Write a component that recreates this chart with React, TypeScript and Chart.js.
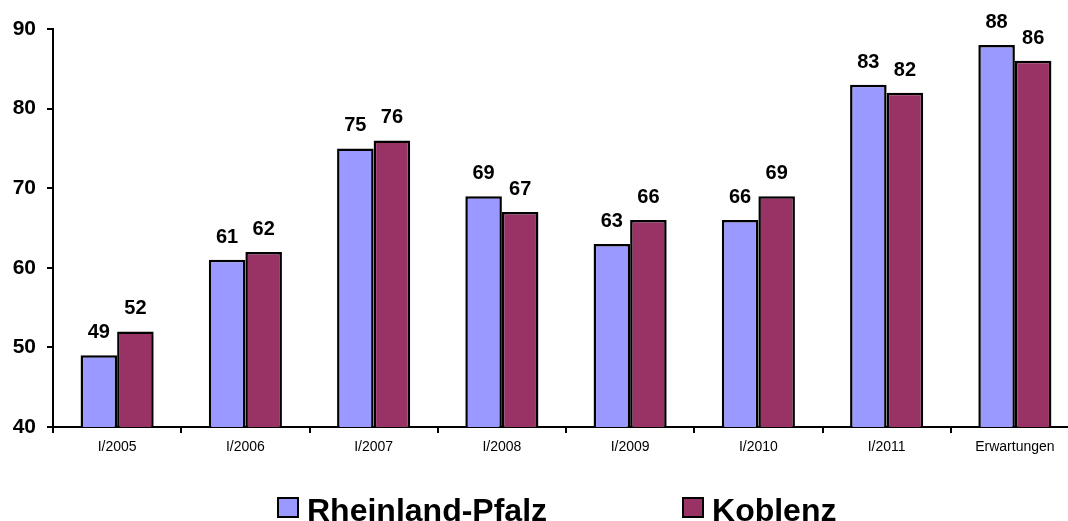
import React, { useEffect, useRef } from "react";
import { Chart, registerables } from "chart.js";

Chart.register(...registerables);

const categories = ["I/2005", "I/2006", "I/2007", "I/2008", "I/2009", "I/2010", "I/2011", "Erwartungen"];
const rheinlandPfalz = [49, 61, 75, 69, 63, 66, 83, 88];
const koblenz = [52, 62, 76, 67, 66, 69, 82, 86];
const seriesNames = ["Rheinland-Pfalz", "Koblenz"];
const seriesColors = ["#9999FF", "#993366"];
const yTicks = [40, 50, 60, 70, 80, 90];

const FONT = '"Liberation Sans", Arial, Helvetica, sans-serif';

const valueLabels = {
  id: "valueLabels",
  afterDatasetsDraw(chart: any) {
    const ctx = chart.ctx;
    ctx.save();
    ctx.font = `bold 20px ${FONT}`;
    ctx.fillStyle = "#000";
    ctx.textAlign = "center";
    ctx.textBaseline = "alphabetic";
    chart.data.datasets.forEach((ds: any, di: number) => {
      const meta = chart.getDatasetMeta(di);
      meta.data.forEach((bar: any, i: number) => {
        ctx.fillText(String(ds.data[i]), bar.x, bar.y - 17);
      });
    });
    ctx.restore();
  },
};

export default function App() {
  const ref = useRef<HTMLCanvasElement>(null);

  useEffect(() => {
    if (!ref.current) return;
    const chart = new Chart(ref.current, {
      type: "bar",
      data: {
        labels: categories,
        datasets: [
          {
            label: seriesNames[0],
            data: rheinlandPfalz,
            backgroundColor: seriesColors[0],
            borderColor: "#000",
            borderWidth: 2.5,
            barPercentage: 1,
            categoryPercentage: 0.57,
          },
          {
            label: seriesNames[1],
            data: koblenz,
            backgroundColor: seriesColors[1],
            borderColor: "#000",
            borderWidth: 2.5,
            barPercentage: 1,
            categoryPercentage: 0.57,
          },
        ],
      },
      options: {
        animation: false,
        responsive: false,
        maintainAspectRatio: false,
        layout: { padding: { top: 29, right: 1, left: 0, bottom: 0 } },
        plugins: {
          legend: { display: false },
          tooltip: { enabled: false },
        },
        scales: {
          x: {
            grid: {
              display: true,
              drawOnChartArea: false,
              drawTicks: true,
              tickLength: 6,
              color: "#000",
              lineWidth: 2,
              offset: true,
            },
            border: { display: true, color: "#000", width: 2 },
            ticks: {
              color: "#000",
              font: { family: FONT, size: 14 },
              padding: 6,
              maxRotation: 0,
              autoSkip: false,
            },
            afterFit: (scale: any) => {
              scale.height = 41;
            },
          },
          y: {
            min: 40,
            max: 90,
            afterBuildTicks: (scale: any) => {
              scale.ticks = yTicks.map((v) => ({ value: v }));
            },
            grid: {
              display: true,
              drawOnChartArea: false,
              drawTicks: true,
              tickLength: 6,
              color: "#000",
              lineWidth: 2,
            },
            border: { display: true, color: "#000", width: 2 },
            ticks: {
              color: "#000",
              font: { family: FONT, size: 21, weight: "bold" },
              padding: 11,
            },
            afterFit: (scale: any) => {
              scale.width = 53;
            },
          },
        },
      },
      plugins: [valueLabels],
    });
    return () => chart.destroy();
  }, []);

  return (
    <div
      style={{
        position: "fixed",
        left: 0,
        top: 0,
        width: 1080,
        height: 521,
        background: "#fff",
        fontFamily: FONT,
      }}
    >
      <canvas ref={ref} width={1080} height={468} style={{ display: "block", width: 1080, height: 468 }} />
      <div
        style={{
          position: "absolute",
          left: 277,
          top: 494,
          height: 32,
          display: "flex",
          alignItems: "flex-start",
          gap: 135,
        }}
      >
        {seriesNames.map((name, i) => (
          <div key={name} style={{ display: "flex", alignItems: "flex-start", gap: 8 }}>
            <div
              style={{
                marginTop: 3,
                width: 22,
                height: 21,
                boxSizing: "border-box",
                border: "2px solid #000",
                background: seriesColors[i],
              }}
            />
            <span style={{ fontSize: 32, fontWeight: "bold", lineHeight: "32px", color: "#000", whiteSpace: "nowrap" }}>
              {name}
            </span>
          </div>
        ))}
      </div>
    </div>
  );
}
